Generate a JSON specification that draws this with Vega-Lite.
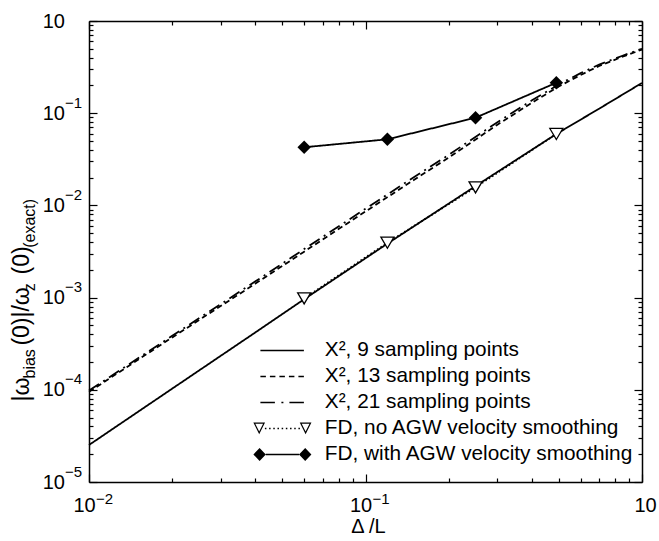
{
  "$schema": "https://vega.github.io/schema/vega-lite/v6.json",
  "width": 553,
  "height": 461,
  "autosize": {"type": "none"},
  "padding": {"left": 89, "top": 21, "right": 17, "bottom": 59},
  "background": "white",
  "config": {"view": {"stroke": null}, "font": "Liberation Sans", "axis": {"grid": false}},
  "datasets": {
    "curves": [
      {"s": "X², 9 sampling points", "x": 0.01, "y": 0.0000252},
      {"s": "X², 9 sampling points", "x": 0.02, "y": 0.000103},
      {"s": "X², 9 sampling points", "x": 0.04, "y": 0.00042},
      {"s": "X², 9 sampling points", "x": 0.06, "y": 0.00096},
      {"s": "X², 9 sampling points", "x": 0.12, "y": 0.00385},
      {"s": "X², 9 sampling points", "x": 0.25, "y": 0.0162},
      {"s": "X², 9 sampling points", "x": 0.49, "y": 0.0595},
      {"s": "X², 9 sampling points", "x": 0.7, "y": 0.112},
      {"s": "X², 9 sampling points", "x": 1.0, "y": 0.213},
      {"s": "X², 13 sampling points", "x": 0.01, "y": 0.000095},
      {"s": "X², 13 sampling points", "x": 0.02, "y": 0.00037},
      {"s": "X², 13 sampling points", "x": 0.04, "y": 0.00142},
      {"s": "X², 13 sampling points", "x": 0.06, "y": 0.00315},
      {"s": "X², 13 sampling points", "x": 0.1, "y": 0.0086},
      {"s": "X², 13 sampling points", "x": 0.15, "y": 0.019},
      {"s": "X², 13 sampling points", "x": 0.2, "y": 0.033},
      {"s": "X², 13 sampling points", "x": 0.3, "y": 0.075},
      {"s": "X², 13 sampling points", "x": 0.4, "y": 0.13},
      {"s": "X², 13 sampling points", "x": 0.5, "y": 0.195},
      {"s": "X², 13 sampling points", "x": 0.6, "y": 0.26},
      {"s": "X², 13 sampling points", "x": 0.7, "y": 0.325},
      {"s": "X², 13 sampling points", "x": 0.85, "y": 0.41},
      {"s": "X², 13 sampling points", "x": 1.0, "y": 0.49},
      {"s": "X², 21 sampling points", "x": 0.01, "y": 0.000098},
      {"s": "X², 21 sampling points", "x": 0.02, "y": 0.000385},
      {"s": "X², 21 sampling points", "x": 0.04, "y": 0.0015},
      {"s": "X², 21 sampling points", "x": 0.06, "y": 0.00336},
      {"s": "X², 21 sampling points", "x": 0.1, "y": 0.0092},
      {"s": "X², 21 sampling points", "x": 0.15, "y": 0.0203},
      {"s": "X², 21 sampling points", "x": 0.2, "y": 0.0353},
      {"s": "X², 21 sampling points", "x": 0.3, "y": 0.08},
      {"s": "X², 21 sampling points", "x": 0.4, "y": 0.138},
      {"s": "X², 21 sampling points", "x": 0.5, "y": 0.205},
      {"s": "X², 21 sampling points", "x": 0.6, "y": 0.272},
      {"s": "X², 21 sampling points", "x": 0.7, "y": 0.337},
      {"s": "X², 21 sampling points", "x": 0.85, "y": 0.42},
      {"s": "X², 21 sampling points", "x": 1.0, "y": 0.5},
      {"s": "FD, no AGW velocity smoothing", "x": 0.06, "y": 0.00098},
      {"s": "FD, no AGW velocity smoothing", "x": 0.12, "y": 0.00394},
      {"s": "FD, no AGW velocity smoothing", "x": 0.25, "y": 0.0157},
      {"s": "FD, no AGW velocity smoothing", "x": 0.49, "y": 0.0595},
      {"s": "FD, with AGW velocity smoothing", "x": 0.06, "y": 0.0427},
      {"s": "FD, with AGW velocity smoothing", "x": 0.12, "y": 0.0521},
      {"s": "FD, with AGW velocity smoothing", "x": 0.25, "y": 0.0894},
      {"s": "FD, with AGW velocity smoothing", "x": 0.49, "y": 0.214}
    ],
    "legendrows": [
      {"s": "X², 9 sampling points"},
      {"s": "X², 13 sampling points"},
      {"s": "X², 21 sampling points"},
      {"s": "FD, no AGW velocity smoothing"},
      {"s": "FD, with AGW velocity smoothing"}
    ]
  },
  "resolve": {"axis": {"x": "independent", "y": "independent"}},
  "layer": [
    {
      "data": {"name": "curves"},
      "mark": {"type": "line", "color": "black", "strokeWidth": 1.8},
      "encoding": {
        "x": {
          "field": "x", "type": "quantitative",
          "scale": {"type": "log", "domain": [0.01, 1], "nice": false},
          "axis": {
            "orient": "bottom",
            "values": [0.01,0.02,0.03,0.04,0.05,0.06,0.07,0.08,0.09,0.1,0.2,0.3,0.4,0.5,0.6,0.7,0.8,0.9,1],
            "grid": false,
            "domain": true, "domainColor": "black", "domainWidth": 1.5,
            "ticks": true, "tickColor": "black", "tickWidth": 1.2,
            "tickSize": {"condition": {"test": "abs(log(datum.value)/LN10 - round(log(datum.value)/LN10)) < 0.001", "value": -8}, "value": -4},
            "labelExpr": "abs(log(datum.value)/LN10 - round(log(datum.value)/LN10)) < 0.001 ? '10' : ''",
            "labelFont": "Liberation Sans", "labelFontSize": 20, "labelColor": "black",
            "labelAlign": "center", "labelBaseline": "top", "labelPadding": 21.5,
            "labelOffset": {"condition": {"test": "datum.value > 0.5", "value": 3}, "value": -5},
            "labelFlush": false, "labelOverlap": false, "labelBound": false,
            "title": "Δ /L", "titleFont": "Liberation Sans", "titleFontSize": 20, "titleFontWeight": "normal", "titleColor": "black",
            "titleAlign": "center", "titleBaseline": "alphabetic", "titleX": 279, "titleY": 50
          }
        },
        "y": {
          "field": "y", "type": "quantitative",
          "scale": {"type": "log", "domain": [0.00001, 1], "nice": false},
          "axis": {
            "orient": "left",
            "values": [0.00001,0.00002,0.00003,0.00004,0.00005,0.00006,0.00007,0.00008,0.00009,0.0001,0.0002,0.0003,0.0004,0.0005,0.0006,0.0007,0.0008,0.0009,0.001,0.002,0.003,0.004,0.005,0.006,0.007,0.008,0.009,0.01,0.02,0.03,0.04,0.05,0.06,0.07,0.08,0.09,0.1,0.2,0.3,0.4,0.5,0.6,0.7,0.8,0.9,1],
            "grid": false,
            "domain": true, "domainColor": "black", "domainWidth": 1.5,
            "ticks": true, "tickColor": "black", "tickWidth": 1.2,
            "tickSize": {"condition": {"test": "abs(log(datum.value)/LN10 - round(log(datum.value)/LN10)) < 0.001", "value": -8}, "value": -4},
            "labelExpr": "abs(log(datum.value)/LN10 - round(log(datum.value)/LN10)) < 0.001 ? '10' : ''",
            "labelFont": "Liberation Sans", "labelFontSize": 20, "labelColor": "black",
            "labelAlign": "right", "labelBaseline": "middle", "labelPadding": 32.5,
            "labelFlush": false, "labelOverlap": false, "labelBound": false,
            "title": "|ω\u00a0\u00a0\u00a0\u00a0\u00a0(0)|/ω\u00a0\u00a0(0)",
            "titleFont": "Liberation Sans", "titleFontSize": 23, "titleFontWeight": "normal", "titleColor": "black",
            "titleAngle": 270, "titleAlign": "left", "titleBaseline": "alphabetic", "titleX": -61, "titleY": 380
          }
        },
        "strokeDash": {
          "field": "s", "type": "nominal",
          "scale": {
            "domain": ["FD, no AGW velocity smoothing", "FD, with AGW velocity smoothing", "X², 9 sampling points", "X², 13 sampling points", "X², 21 sampling points"],
            "range": [[1.5, 2.5], [1, 0], [1, 0], [5.5, 3.5], [12, 5, 2, 5]]
          },
          "legend": null
        }
      }
    },
    {
      "data": {"name": "curves"},
      "transform": [{"filter": "datum.s === 'FD, no AGW velocity smoothing'"}],
      "mark": {"type": "point", "shape": "M-1,-0.85L1,-0.85L0,0.85Z", "size": 169, "filled": true, "fill": "white", "stroke": "black", "strokeWidth": 1.3, "opacity": 1},
      "encoding": {
        "x": {
          "field": "x", "type": "quantitative",
          "scale": {"type": "log", "domain": [0.01, 1], "nice": false},
          "axis": {
            "orient": "top",
            "values": [0.01,0.02,0.03,0.04,0.05,0.06,0.07,0.08,0.09,0.1,0.2,0.3,0.4,0.5,0.6,0.7,0.8,0.9,1],
            "grid": false, "labels": false, "title": null,
            "domain": true, "domainColor": "black", "domainWidth": 1.5,
            "ticks": true, "tickColor": "black", "tickWidth": 1.2,
            "tickSize": {"condition": {"test": "abs(log(datum.value)/LN10 - round(log(datum.value)/LN10)) < 0.001", "value": -8}, "value": -4}
          }
        },
        "y": {
          "field": "y", "type": "quantitative",
          "scale": {"type": "log", "domain": [0.00001, 1], "nice": false},
          "axis": {
            "orient": "right",
            "values": [0.00001,0.00002,0.00003,0.00004,0.00005,0.00006,0.00007,0.00008,0.00009,0.0001,0.0002,0.0003,0.0004,0.0005,0.0006,0.0007,0.0008,0.0009,0.001,0.002,0.003,0.004,0.005,0.006,0.007,0.008,0.009,0.01,0.02,0.03,0.04,0.05,0.06,0.07,0.08,0.09,0.1,0.2,0.3,0.4,0.5,0.6,0.7,0.8,0.9,1],
            "grid": false, "labels": false, "title": null,
            "domain": true, "domainColor": "black", "domainWidth": 1.5,
            "ticks": true, "tickColor": "black", "tickWidth": 1.2,
            "tickSize": {"condition": {"test": "abs(log(datum.value)/LN10 - round(log(datum.value)/LN10)) < 0.001", "value": -8}, "value": -4}
          }
        }
      }
    },
    {
      "data": {"name": "curves"},
      "transform": [{"filter": "datum.s === 'FD, with AGW velocity smoothing'"}],
      "mark": {"type": "point", "shape": "diamond", "size": 180, "filled": true, "color": "black", "strokeWidth": 0, "opacity": 1},
      "encoding": {
        "x": {
          "field": "x", "type": "quantitative",
          "scale": {"type": "log", "domain": [0.01, 1], "nice": false},
          "axis": {
            "orient": "bottom", "values": [0.01, 0.1],
            "grid": false, "domain": false, "ticks": false,
            "labelExpr": "'−' + format(-round(log(datum.value)/LN10), 'd')",
            "labelFont": "Liberation Sans", "labelFontSize": 15, "labelColor": "black",
            "labelAlign": "left", "labelBaseline": "top", "labelPadding": 9.5, "labelOffset": 6.5,
            "labelFlush": false, "labelOverlap": false, "labelBound": false,
            "title": null
          }
        },
        "y": {
          "field": "y", "type": "quantitative",
          "scale": {"type": "log", "domain": [0.00001, 1], "nice": false},
          "axis": {
            "orient": "left", "values": [0.00001, 0.0001, 0.001, 0.01, 0.1],
            "grid": false, "domain": false, "ticks": false,
            "labelExpr": "'−' + format(-round(log(datum.value)/LN10), 'd')",
            "labelFont": "Liberation Sans", "labelFontSize": 15, "labelColor": "black",
            "labelAlign": "right", "labelBaseline": "middle", "labelPadding": 7.5, "labelOffset": -11,
            "labelFlush": false, "labelOverlap": false, "labelBound": false,
            "title": "bias\u00a0\u00a0\u00a0\u00a0\u00a0\u00a0\u00a0\u00a0\u00a0\u00a0\u00a0\u00a0\u00a0z\u00a0\u00a0\u00a0\u00a0\u00a0\u00a0\u00a0\u00a0(exact)",
            "titleFont": "Liberation Sans", "titleFontSize": 16, "titleFontWeight": "normal", "titleColor": "black",
            "titleAngle": 270, "titleAlign": "left", "titleBaseline": "alphabetic", "titleX": -55, "titleY": 357
          }
        }
      }
    },
    {
      "data": {"name": "legendrows"},
      "mark": {"type": "point", "filled": true, "color": "black", "size": 400, "opacity": 0},
      "encoding": {
        "shape": {
          "field": "s", "type": "nominal",
          "scale": {
            "domain": ["X², 9 sampling points", "X², 13 sampling points", "X², 21 sampling points", "FD, no AGW velocity smoothing", "FD, with AGW velocity smoothing"],
            "range": [
              "M-2.2,-0.075H2.15V0.075H-2.2Z",
              "M-2.2,-0.075H-1.65V0.075H-2.2Z M-1.25,-0.075H-0.7V0.075H-1.25Z M-0.3,-0.075H0.25V0.075H-0.3Z M0.65,-0.075H1.2V0.075H0.65Z M1.6,-0.075H2.15V0.075H1.6Z",
              "M-2.2,-0.075H-0.75V0.075H-2.2Z M-0.1,-0.075H0.1V0.075H-0.1Z M0.7,-0.075H2.15V0.075H0.7Z",
              "M-2.905,-0.585L-1.735,-0.585L-2.32,0.585Z M-2.711,-0.465L-2.32,0.317L-1.929,-0.465Z M1.735,-0.585L2.905,-0.585L2.32,0.585Z M1.929,-0.465L2.32,0.317L2.711,-0.465Z M-1.75,-0.075H-1.6V0.075H-1.75Z M-1.331,-0.075H-1.181V0.075H-1.331Z M-0.912,-0.075H-0.762V0.075H-0.912Z M-0.493,-0.075H-0.343V0.075H-0.493Z M-0.074,-0.075H0.076V0.075H-0.074Z M0.345,-0.075H0.495V0.075H0.345Z M0.764,-0.075H0.914V0.075H0.764Z M1.183,-0.075H1.333V0.075H1.183Z M1.602,-0.075H1.752V0.075H1.602Z",
              "M-2.9,0L-2.28,-0.65L-1.66,0L-2.28,0.65Z M1.66,0L2.28,-0.65L2.9,0L2.28,0.65Z M-1.66,-0.075H1.66V0.075H-1.66Z"
            ]
          },
          "legend": {
            "title": null, "orient": "none", "legendX": 164, "legendY": 319, "padding": 0, "offset": 0,
            "direction": "vertical",
            "symbolSize": 400, "symbolStrokeWidth": 0, "symbolFillColor": "black", "symbolStrokeColor": "black", "symbolOpacity": 1,
            "symbolOffset": 19,
            "labelFont": "Liberation Sans", "labelFontSize": 20.8, "labelColor": "black", "labelOffset": 32, "labelLimit": 400, "labelBaseline": "middle",
            "rowPadding": 4
          }
        }
      }
    }
  ]
}
